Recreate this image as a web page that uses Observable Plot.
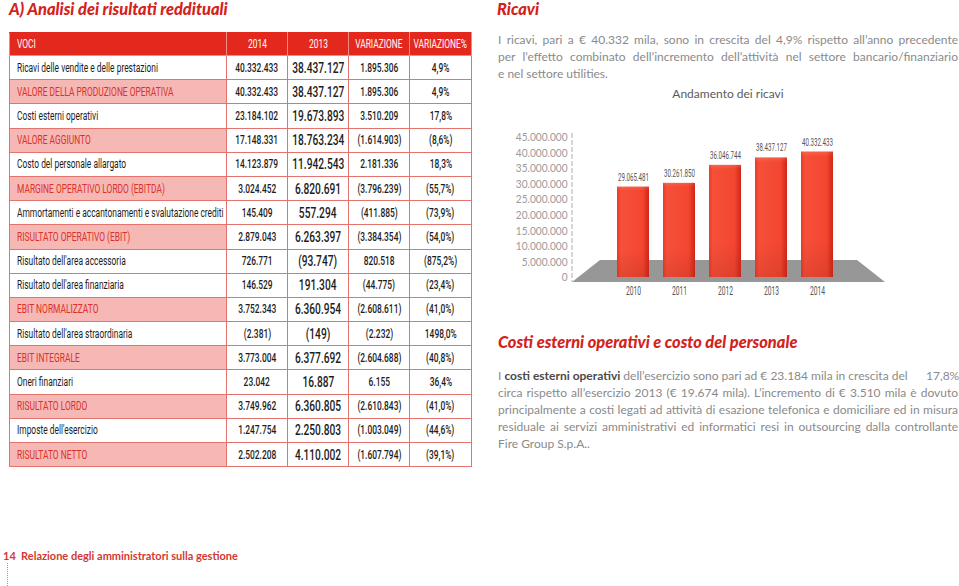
<!DOCTYPE html>
<html><head><meta charset="utf-8">
<script src="https://cdn.jsdelivr.net/npm/d3@7"></script>
<script src="https://cdn.jsdelivr.net/npm/@observablehq/plot@0.6"></script>
<style>
html,body{margin:0;padding:0;}
body{width:959px;height:586px;overflow:hidden;background:#fff;position:relative;font-family:Lato,"Open Sans",sans-serif;}
.abs{position:absolute;}
.title{color:#d2231b;font-weight:900;font-style:italic;font-size:16.4px;line-height:18px;white-space:nowrap;}
.para{color:#8a8a8a;font-size:12px;line-height:17px;width:460px;}
.para div{text-align:justify;text-align-last:justify;white-space:nowrap;}
.para div.last{text-align-last:left;}
table{border-collapse:collapse;table-layout:fixed;width:462px;font-family:Roboto,"DejaVu Sans",sans-serif;}
td{border:1px solid #e4736d;padding:0;height:23.2px;font-size:12px;color:#1c1c1c;white-space:nowrap;overflow:hidden;}
td .c{display:flex;justify-content:center;width:100%;}
td .c span{display:inline-block;flex-shrink:0;transform:scaleX(0.70);transform-origin:50% 50%;}
td.num{font-weight:500;}
td.lab .c{justify-content:flex-start;padding-left:7px;}
td.lab .c span{transform-origin:0 50%;transform:scaleX(0.70);}
td.tot{background:#f5b8b5;color:#dc3128;}
td.big{font-size:15px;}
td.big .c span{transform:scaleX(0.68);}
tr.head td{background:#e3281e;color:#fff;height:22px;border-color:#ef8a84;border-top-color:#e3281e;font-weight:400;}
</style></head><body>
<div class="abs title" style="left:9px;top:0px;">A) Analisi dei risultati reddituali</div>
<div class="abs title" style="left:497px;top:0px;">Ricavi</div>
<div id="p1" class="abs para" style="left:498px;top:31px;"></div>
<div class="abs" style="left:498px;top:86px;width:460px;text-align:center;font-size:12px;color:#5a5a5a;">Andamento dei ricavi</div>
<div id="chart" class="abs" style="left:490px;top:120px;"></div>
<div class="abs title" style="left:498px;top:333px;">Costi esterni operativi e costo del personale</div>
<div id="p2" class="abs para" style="left:498px;top:367px;"></div>
<div id="tab" class="abs" style="left:9px;top:32px;"></div>
<div class="abs" style="left:3px;top:549px;font-size:11px;font-weight:700;color:#d23a31;white-space:nowrap;">14&nbsp;&nbsp;Relazione degli amministratori sulla gestione</div>
<div class="abs" style="left:7px;top:563px;height:23px;border-left:1px dotted #999;"></div>
<script>
// ---------- table data ----------
const colonne = ["VOCI", "2014", "2013", "VARIAZIONE", "VARIAZIONE%"];
const voci = [
  "Ricavi delle vendite e delle prestazioni",
  "VALORE DELLA PRODUZIONE OPERATIVA",
  "Costi esterni operativi",
  "VALORE AGGIUNTO",
  "Costo del personale allargato",
  "MARGINE OPERATIVO LORDO (EBITDA)",
  "Ammortamenti e accantonamenti e svalutazione crediti",
  "RISULTATO OPERATIVO (EBIT)",
  "Risultato dell'area accessoria",
  "Risultato dell'area finanziaria",
  "EBIT NORMALIZZATO",
  "Risultato dell'area straordinaria",
  "EBIT INTEGRALE",
  "Oneri finanziari",
  "RISULTATO LORDO",
  "Imposte dell'esercizio",
  "RISULTATO NETTO"
];
const valori2014 = ["40.332.433","40.332.433","23.184.102","17.148.331","14.123.879","3.024.452","145.409","2.879.043","726.771","146.529","3.752.343","(2.381)","3.773.004","23.042","3.749.962","1.247.754","2.502.208"];
const valori2013 = ["38.437.127","38.437.127","19.673.893","18.763.234","11.942.543","6.820.691","557.294","6.263.397","(93.747)","191.304","6.360.954","(149)","6.377.692","16.887","6.360.805","2.250.803","4.110.002"];
const variazione = ["1.895.306","1.895.306","3.510.209","(1.614.903)","2.181.336","(3.796.239)","(411.885)","(3.384.354)","820.518","(44.775)","(2.608.611)","(2.232)","(2.604.688)","6.155","(2.610.843)","(1.003.049)","(1.607.794)"];
const variazionePct = ["4,9%","4,9%","17,8%","(8,6%)","18,3%","(55,7%)","(73,9%)","(54,0%)","(875,2%)","(23,4%)","(41,0%)","1498,0%","(40,8%)","36,4%","(41,0%)","(44,6%)","(39,1%)"];
const totali = ["VALORE DELLA PRODUZIONE OPERATIVA","VALORE AGGIUNTO","MARGINE OPERATIVO LORDO (EBITDA)","RISULTATO OPERATIVO (EBIT)","EBIT NORMALIZZATO","EBIT INTEGRALE","RISULTATO LORDO","RISULTATO NETTO"];

// ---------- chart data ----------
const anni = ["2010", "2011", "2012", "2013", "2014"];
const ricavi = [29065481, 30261850, 36046744, 38437127, 40332433];
const yTicks = [0, 5000000, 10000000, 15000000, 20000000, 25000000, 30000000, 35000000, 40000000, 45000000];

// ---------- texts ----------
const testo1 = [
  "I ricavi, pari a € 40.332 mila, sono in crescita del 4,9% rispetto all’anno precedente",
  "per l’effetto combinato dell’incremento dell’attività nel settore bancario/finanziario",
  "e nel settore utilities."
];
const testo2 = [
  "I <b>costi esterni operativi</b> dell’esercizio sono pari ad € 23.184 mila in crescita del &nbsp;&nbsp;&nbsp;&nbsp; 17,8%",
  "circa rispetto all’esercizio 2013 (€ 19.674 mila). L’incremento di € 3.510 mila è dovuto",
  "principalmente a costi legati ad attività di esazione telefonica e domiciliare ed in misura",
  "residuale ai servizi amministrativi ed informatici resi in outsourcing dalla controllante",
  "Fire Group S.p.A.."
];

function fillPara(id, lines) {
  const el = document.getElementById(id);
  lines.forEach((l, i) => {
    const d = document.createElement("div");
    d.innerHTML = l;
    if (i === lines.length - 1) d.className = "last";
    el.appendChild(d);
  });
}
fillPara("p1", testo1);
fillPara("p2", testo2);
document.querySelectorAll("#p2 b").forEach(b => { b.style.color = "#4a4a4a"; });

// ---------- table ----------
const widths = [217, 61, 61, 61, 62];
const table = d3.select("#tab").append("table");
const cg = table.append("colgroup");
widths.forEach(w => cg.append("col").style("width", w + "px"));
function cell(tr, cls, txt) {
  tr.append("td").attr("class", cls).append("div").attr("class", "c").append("span").text(txt);
}
const hr = table.append("tr").attr("class", "head");
colonne.forEach((c, i) => cell(hr, i === 0 ? "lab" : "", c));
voci.forEach((v, i) => {
  const tr = table.append("tr");
  cell(tr, "lab" + (totali.includes(v) ? " tot" : ""), v);
  cell(tr, "num", valori2014[i]);
  cell(tr, "num big", valori2013[i]);
  cell(tr, "num", variazione[i]);
  cell(tr, "num", variazionePct[i]);
});

// ---------- chart ----------
const itFmt = d3.formatLocale({decimal: ",", thousands: ".", grouping: [3], currency: ["€", ""]}).format(",d");
const data = anni.map((a, i) => ({anno: a, ricavi: ricavi[i]}));

const floor = (index, scales, values, dims) => {
  const y0 = scales.y(0);
  const l = dims.marginLeft, r = dims.width - dims.marginRight;
  const top = y0 - 17, bot = y0 + 5;
  return d3.create("svg:polygon")
    .attr("points", `${l},${bot} ${l + 28},${top} ${r - 21},${top} ${r + 7},${bot}`)
    .attr("fill", "#979797").node();
};
const axisLine = (index, scales, values, dims) => {
  return d3.create("svg:line")
    .attr("x1", dims.marginLeft).attr("x2", dims.marginLeft)
    .attr("y1", dims.marginTop - 4).attr("y2", dims.height - dims.marginBottom + 5)
    .attr("stroke", "#d6d6d6").attr("stroke-width", 2).attr("stroke-dasharray", "5,2").node();
};

const chart = Plot.plot({
  width: 400, height: 190,
  marginLeft: 82, marginRight: 12, marginTop: 17, marginBottom: 33,
  x: {domain: anni, paddingInner: 0.3, paddingOuter: 0.94, label: null},
  y: {domain: [0, 45000000], label: null},
  style: {background: "transparent", overflow: "visible"},
  marks: [
    floor,
    axisLine,
    Plot.axisY({ticks: yTicks, tickFormat: itFmt, tickSize: 0, tickPadding: 5, fontSize: 11.5, fill: "#9b9b9b", fontFamily: "Lato", className: "yax"}),
    Plot.axisX({tickSize: 0, tickPadding: 9, fontSize: 12, fill: "#555", fontFamily: "Roboto", className: "narrow"}),
    Plot.barY(data, {x: "anno", y: "ricavi", fill: "url(#gradH)"}),
    Plot.barY(data, {x: "anno", y: "ricavi", fill: "url(#gradV)"}),
    Plot.text(data, {x: "anno", y: "ricavi", text: d => itFmt(d.ricavi), dy: -10, fontSize: 11, fill: "#555", fontFamily: "Roboto", className: "narrow"})
  ]
});
const defs = d3.select(chart).insert("defs", ":first-child");
const gh = defs.append("linearGradient").attr("id", "gradH").attr("x1", 0).attr("x2", 1).attr("y1", 0).attr("y2", 0);
gh.append("stop").attr("offset", "0%").attr("stop-color", "#e93a28");
gh.append("stop").attr("offset", "12%").attr("stop-color", "#f6503a");
gh.append("stop").attr("offset", "80%").attr("stop-color", "#f3462f");
gh.append("stop").attr("offset", "100%").attr("stop-color", "#cf2619");
const gv = defs.append("linearGradient").attr("id", "gradV").attr("x1", 0).attr("x2", 0).attr("y1", 0).attr("y2", 1);
gv.append("stop").attr("offset", "0%").attr("stop-color", "#fff").attr("stop-opacity", 0.12);
gv.append("stop").attr("offset", "4%").attr("stop-color", "#fff").attr("stop-opacity", 0);
gv.append("stop").attr("offset", "70%").attr("stop-color", "#8a1e14").attr("stop-opacity", 0);
gv.append("stop").attr("offset", "100%").attr("stop-color", "#8a1e14").attr("stop-opacity", 0.18);
document.getElementById("chart").appendChild(chart);

// condense labels horizontally around their own anchor (Futura Condensed look)
function condense(selection, k) {
  selection.each(function () {
    const x = this.getAttribute("x");
    const t = this.getAttribute("transform") || "";
    if (x != null) this.setAttribute("transform", `${t} translate(${x},0) scale(${k},1) translate(${-x},0)`);
    else this.setAttribute("transform", `${t} scale(${k},1)`);
  });
}
condense(d3.select(chart).selectAll("g.narrow text"), 0.56);
condense(d3.select(chart).selectAll("g.yax text"), 0.88);
</script>
</body></html>
